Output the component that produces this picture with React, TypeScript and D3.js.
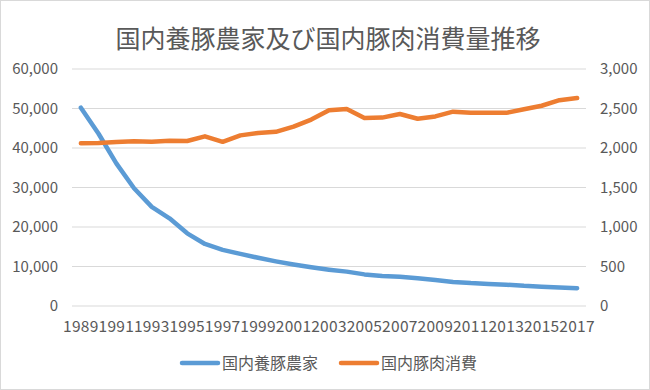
import React from 'react';
import * as d3 from 'd3';

const years = d3.range(1989, 2018).map(String);
// 国内養豚農家 (戸)
const farms = [50200, 43600, 36100, 29800, 25100, 22200, 18400, 15700, 14200, 13200, 12200, 11300, 10500, 9800, 9200, 8700, 8000, 7600, 7400, 7000, 6600, 6100, 5800, 5600, 5400, 5100, 4900, 4700, 4500];
// 国内豚肉消費 (千トン)
const pork = [2060, 2062, 2076, 2085, 2080, 2093, 2088, 2148, 2078, 2160, 2190, 2205, 2270, 2360, 2478, 2494, 2380, 2385, 2430, 2370, 2400, 2460, 2445, 2445, 2445, 2490, 2535, 2605, 2633];
const leftTicks = [0, 10000, 20000, 30000, 40000, 50000, 60000];
const rightTicks = [0, 500, 1000, 1500, 2000, 2500, 3000];

const W = 650, H = 390;
const font = '"Noto Sans CJK JP", "Noto Sans", sans-serif';
const textColor = '#595959';

export default function App() {
  const x = d3.scalePoint<string>().domain(years).range([72, 586]).padding(0.5);
  const yL = d3.scaleLinear().domain([0, 60000]).range([306, 69]);
  const yR = d3.scaleLinear().domain([0, 3000]).range([306, 69]);
  const fmt = d3.format(',');

  const lineL = d3.line<number>().x((_, i) => x(years[i])!).y(d => yL(d));
  const lineR = d3.line<number>().x((_, i) => x(years[i])!).y(d => yR(d));

  return (
    <svg width={W} height={H} style={{ position: 'absolute', left: 0, top: 0, fontFamily: font }}>
      <rect x={0.5} y={0.5} width={W - 1} height={H - 1} fill="#fff" stroke="#d9d9d9" />
      <text x={328} y={48} textAnchor="middle" fontSize={25} fill={textColor}>国内養豚農家及び国内豚肉消費量推移</text>

      {leftTicks.map(t => (
        <line key={t} x1={72} x2={586} y1={yL(t)} y2={yL(t)} stroke="#d9d9d9" strokeWidth={1} />
      ))}
      {leftTicks.map(t => (
        <text key={t} x={58} y={yL(t)} dy="0.35em" textAnchor="end" fontSize={15} fill={textColor}>{fmt(t)}</text>
      ))}
      {rightTicks.map(t => (
        <text key={t} x={600} y={yR(t)} dy="0.35em" textAnchor="start" fontSize={15} fill={textColor}>{fmt(t)}</text>
      ))}
      {years.filter((_, i) => i % 2 === 0).map(yr => (
        <text key={yr} x={x(yr)} y={327} dy="0.35em" textAnchor="middle" fontSize={15.5} letterSpacing={0.3} fill={textColor}>{yr}</text>
      ))}

      <path d={lineL(farms)!} fill="none" stroke="#5b9bd5" strokeWidth={4.5} strokeLinejoin="round" strokeLinecap="round" />
      <path d={lineR(pork)!} fill="none" stroke="#ed7d31" strokeWidth={4.5} strokeLinejoin="round" strokeLinecap="round" />

      <line x1={182} x2={218} y1={363} y2={363} stroke="#5b9bd5" strokeWidth={4.5} strokeLinecap="round" />
      <text x={222} y={363} dy="0.35em" fontSize={16} fill={textColor}>国内養豚農家</text>
      <line x1={341} x2={377} y1={363} y2={363} stroke="#ed7d31" strokeWidth={4.5} strokeLinecap="round" />
      <text x={381} y={363} dy="0.35em" fontSize={16} fill={textColor}>国内豚肉消費</text>
    </svg>
  );
}
